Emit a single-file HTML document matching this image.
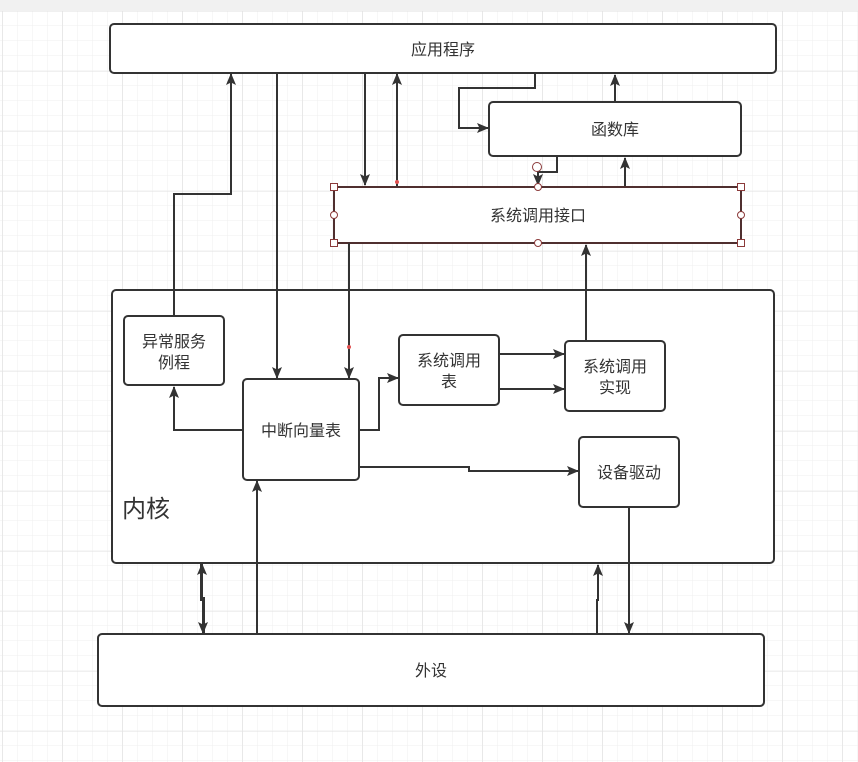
<!DOCTYPE html>
<html><head><meta charset="utf-8"><style>
html,body{margin:0;padding:0;width:858px;height:762px;overflow:hidden;background:#fff}
svg{display:block}
text{font-family:"Liberation Sans","Noto Sans CJK SC",sans-serif;fill:#333}
</style></head><body>
<svg width="858" height="762" xmlns="http://www.w3.org/2000/svg">
<defs>
<pattern id="g" x="2.5" y="11" width="15" height="15" patternUnits="userSpaceOnUse"><path d="M15 0V15M0 15H15" fill="none" stroke="#efefef" stroke-width="1"/></pattern>
<pattern id="G" x="2.5" y="11" width="60" height="60" patternUnits="userSpaceOnUse"><path d="M0 0V60M0 0H60" fill="none" stroke="#e2e2e2" stroke-width="1"/></pattern>
<marker id="a" markerWidth="12" markerHeight="12" refX="11" refY="6" orient="auto" markerUnits="userSpaceOnUse"><path d="M0 1L12 6L0 11L2.5 6Z" fill="#333"/></marker>
</defs>
<rect width="858" height="762" fill="#fff"/>
<rect y="11" width="858" height="751" fill="url(#g)"/>
<rect y="11" width="858" height="751" fill="url(#G)"/>
<rect width="858" height="11" fill="#f1f1f1"/>
<g fill="#fff" stroke="#333" stroke-width="2">
<rect x="110" y="24" width="666" height="49" rx="4"/>
<rect x="489" y="102" width="252" height="54" rx="4"/>
<rect x="112" y="290" width="662" height="273" rx="4"/>
<rect x="124" y="316" width="100" height="69" rx="4"/>
<rect x="243" y="379" width="116" height="101" rx="4"/>
<rect x="399" y="335" width="100" height="70" rx="4"/>
<rect x="565" y="341" width="100" height="70" rx="4"/>
<rect x="579" y="437" width="100" height="70" rx="4"/>
<rect x="98" y="634" width="666" height="72" rx="4"/>
<rect x="334" y="187" width="407" height="56"/>
</g>
<rect x="334" y="187" width="407" height="56" fill="none" stroke="#7a2a2a" stroke-width="0.8"/>
<g fill="none" stroke="#333" stroke-width="2" marker-end="url(#a)">
<path d="M174 316V194H231V74"/>
<path d="M277 73V378"/>
<path d="M365 73V185"/>
<path d="M397 186V74"/>
<path d="M535 73V88H459V128H488"/>
<path d="M615 102V75"/>
<path d="M557 156V172H538V185"/>
<path d="M625 186V158"/>
<path d="M349 243V378"/>
<path d="M586 341V245"/>
<path d="M243 430H174V387"/>
<path d="M359 430H379V378H398"/>
<path d="M499 354H564"/>
<path d="M499 389H564"/>
<path d="M359 467H469V471H578"/>
<path d="M257 634V481"/>
<path d="M204 634V598H202V564"/>
<path d="M201 564V600H203V633"/>
<path d="M597 634V600H598V565"/>
<path d="M629 507V633"/>
</g>
<g fill="#fff" stroke="#8b3a3a" stroke-width="1">
<rect x="330.5" y="183.5" width="7" height="7"/><rect x="737.5" y="183.5" width="7" height="7"/>
<rect x="330.5" y="239.5" width="7" height="7"/><rect x="737.5" y="239.5" width="7" height="7"/>
<circle cx="538" cy="187" r="3.5"/><circle cx="538" cy="243" r="3.5"/>
<circle cx="334" cy="215" r="3.5"/><circle cx="741" cy="215" r="3.5"/>
<circle cx="537" cy="167" r="4.5"/>
</g>
<circle cx="397" cy="182" r="2" fill="#e05050"/>
<circle cx="349" cy="347" r="2" fill="#e05050"/>
<g font-size="16" text-anchor="middle">
<text x="443" y="55">应用程序</text>
<text x="615" y="135">函数库</text>
<text x="538" y="221">系统调用接口</text>
<text x="174" y="347">异常服务</text>
<text x="174" y="368">例程</text>
<text x="301" y="436">中断向量表</text>
<text x="449" y="366">系统调用</text>
<text x="449" y="387">表</text>
<text x="615" y="372">系统调用</text>
<text x="615" y="393">实现</text>
<text x="629" y="478">设备驱动</text>
<text x="431" y="676">外设</text>
</g>
<text x="122" y="517" font-size="24">内核</text>
</svg>
</body></html>
